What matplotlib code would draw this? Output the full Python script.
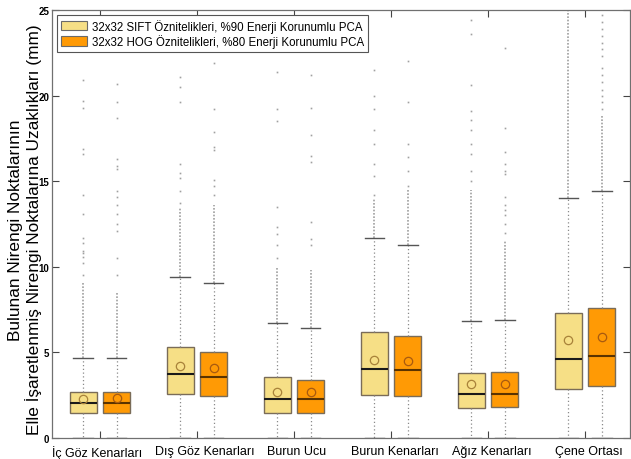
import matplotlib
matplotlib.use("Agg")
import matplotlib.pyplot as plt
from matplotlib.patches import Patch
from matplotlib.transforms import ScaledTranslation

plt.rcParams['font.family'] = ['Liberation Sans', 'DejaVu Sans']

categories = ["İç Göz Kenarları", "Dış Göz Kenarları", "Burun Ucu",
              "Burun Kenarları", "Ağız Kenarları", "Çene Ortası"]
series_names = ["32x32 SIFT Öznitelikleri, %90 Enerji Korunumlu PCA",
                "32x32 HOG Öznitelikleri, %80 Enerji Korunumlu PCA"]

# SIFT statistics
sift_q1 = [1.46, 2.57, 1.46, 2.51, 1.73, 2.84]
sift_med = [2.03, 3.74, 2.26, 4.05, 2.57, 4.59]
sift_q3 = [2.70, 5.30, 3.55, 6.19, 3.78, 7.30]
sift_mean = [2.26, 4.22, 2.70, 4.57, 3.13, 5.70]
sift_whislo = [0.0, 0.0, 0.0, 0.0, 0.0, 0.0]
sift_whishi = [4.65, 9.42, 6.70, 11.68, 6.85, 14.00]
sift_dense_top = [9.1, 13.5, 10.0, 14.0, 14.5, 25.0]
sift_outliers = [
    [9.5, 10.2, 10.6, 10.8, 10.9, 11.4, 11.7, 13.1, 14.2, 16.6, 16.9, 19.3, 19.7, 20.9],
    [13.7, 14.4, 15.2, 15.5, 16.0, 19.6, 20.5, 21.1],
    [10.5, 11.3, 11.9, 12.3, 13.5, 18.5, 19.2, 21.4],
    [14.2, 15.3, 16.0, 17.2, 18.0, 19.2, 20.0, 21.5],
    [15.0, 15.6, 16.6, 17.2, 18.0, 18.6, 19.1, 20.6, 23.6, 24.4],
    [],
]

# HOG statistics
hog_q1 = [1.46, 2.43, 1.46, 2.47, 1.79, 3.02]
hog_med = [2.07, 3.55, 2.26, 3.97, 2.57, 4.81]
hog_q3 = [2.70, 5.04, 3.40, 5.98, 3.83, 7.57]
hog_mean = [2.34, 4.10, 2.70, 4.50, 3.13, 5.88]
hog_whislo = [0.0, 0.0, 0.0, 0.0, 0.0, 0.0]
hog_whishi = [4.65, 9.04, 6.40, 11.27, 6.87, 14.40]
hog_dense_top = [8.5, 13.6, 9.8, 14.5, 11.5, 18.8]
hog_outliers = [
    [9.5, 10.5, 12.1, 12.5, 13.1, 13.6, 14.1, 14.4, 15.7, 15.9, 16.3, 18.7, 19.6, 20.7],
    [14.2, 14.7, 15.1, 16.8, 17.0, 17.9, 19.2, 21.9],
    [11.3, 11.6, 12.6, 16.1, 16.5, 17.7, 19.3, 21.2],
    [14.7, 15.6, 16.4, 17.2, 19.6, 22.0],
    [12.0, 12.5, 13.0, 13.3, 13.6, 14.1, 15.4, 15.6, 16.0, 16.7, 18.1, 22.8],
    [19.2, 19.6, 20.0, 20.3, 20.8, 21.2, 21.6, 22.3, 22.7, 23.1, 23.5, 23.9, 24.3, 24.7],
]

fig = plt.figure(figsize=(6.31, 4.60), dpi=100)
ax = fig.add_axes([0.0824, 0.0457, 0.9156, 0.9303])

offset = 0.172
width = 0.28
colors = ["#F6DF86", "#FF9A05"]
median_colors = ["#1a1a1a", "#5a3300"]
mean_colors = ["#a8823a", "#a85a10"]
groups = [
    (sift_q1, sift_med, sift_q3, sift_mean, sift_whislo, sift_whishi, sift_outliers, sift_dense_top),
    (hog_q1, hog_med, hog_q3, hog_mean, hog_whislo, hog_whishi, hog_outliers, hog_dense_top),
]

for si, (q1, med, q3, mean, wlo, whi, outl, dtop) in enumerate(groups):
    stats = []
    for i in range(len(categories)):
        stats.append(dict(q1=q1[i], med=med[i], q3=q3[i], mean=mean[i],
                          whislo=wlo[i], whishi=whi[i], fliers=outl[i]))
    pos = [i + 1 + (-offset if si == 0 else offset) for i in range(len(categories))]
    # dense outlier runs
    ax.vlines(pos, whi, dtop, colors="#a0a0a0", linestyles=(0, (1, 1)), linewidth=1.2, zorder=1)
    ax.bxp(stats, positions=pos, widths=width, patch_artist=True, showmeans=True,
           capwidths=width * 0.72,
           boxprops=dict(facecolor=colors[si], edgecolor="#7a6c58", linewidth=1.0),
           medianprops=dict(color=median_colors[si], linewidth=1.5),
           meanprops=dict(marker="o", markerfacecolor="none", markeredgecolor=mean_colors[si],
                          markersize=6, markeredgewidth=0.9),
           whiskerprops=dict(color="#8a8a8a", linestyle=(0, (1, 2)), linewidth=0.9),
           capprops=dict(color="#555555", linewidth=1.0),
           flierprops=dict(marker="s", markersize=1.2, markerfacecolor="#a0a0a0",
                           markeredgecolor="none", linestyle="none"),
           manage_ticks=False)

ax.set_xlim(0.506, 6.46)
ax.set_ylim(0, 25)
ax.set_xticks(range(1, len(categories) + 1))
ax.set_xticklabels(categories, fontsize=9)
ax.set_yticks([0, 5, 10, 15, 20, 25])
ax.set_yticklabels(["0", "5", "10", "15", "20", "25"], fontsize=7, fontweight="bold")
ax.tick_params(direction="in", top=True, right=True, length=5, width=0.8, color="#444444")
ax.tick_params(axis="x", pad=5)
ax.tick_params(axis="y", pad=2)
for sp in ax.spines.values():
    sp.set_color("#707070")
    sp.set_linewidth(0.9)

# small horizontal nudges of the category labels, as in the reference
label_shift_px = [-3, 8, 3, 4, 4, 4]
for lbl, dx in zip(ax.get_xticklabels(), label_shift_px):
    lbl.set_transform(lbl.get_transform() + ScaledTranslation(dx / 100.0, 0, fig.dpi_scale_trans))

ax.set_ylabel("Bulunan Nirengi Noktalarının\nElle İşaretlenmiş Nirengi Noktalarına Uzaklıkları (mm)",
              fontsize=12.4, linespacing=1.1)
ax.yaxis.set_label_coords(-0.018, 0.488)

handles = [Patch(facecolor=colors[k], edgecolor="#6a6a6a", linewidth=0.8) for k in range(2)]
leg = ax.legend(handles, series_names, loc="upper left", fontsize=8.3, frameon=True,
                fancybox=False, framealpha=1, edgecolor="#555555",
                handlelength=2.3, handleheight=0.85, handletextpad=0.4,
                borderpad=0.35, labelspacing=0.12, borderaxespad=0.4)
leg.get_frame().set_linewidth(0.8)

fig.savefig("out.png", dpi=100)
